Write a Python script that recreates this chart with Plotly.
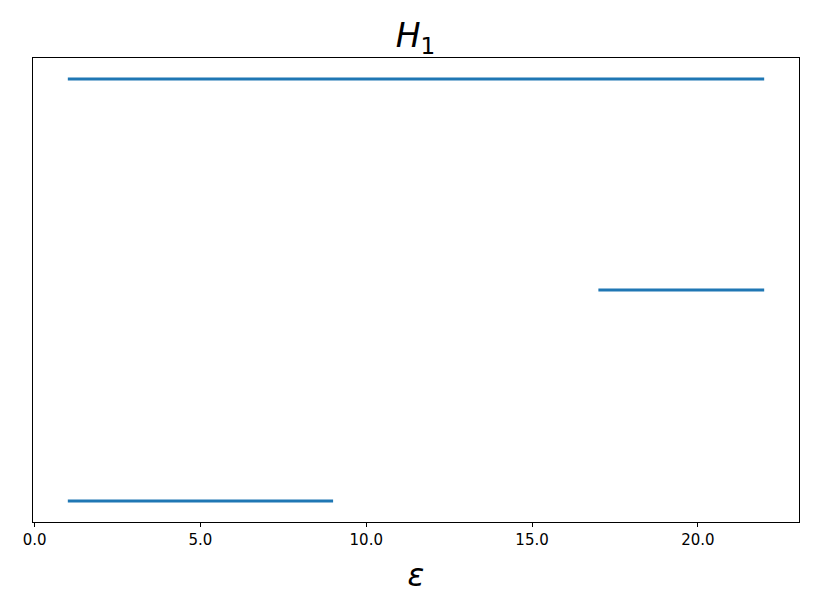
import plotly.graph_objects as go

# persistence intervals for H1 (birth, death), one bar per row
births = [1.0, 17.0, 1.0]
deaths = [22.0, 22.0, 9.0]
rows = [2, 1, 0]

tick_vals = [0, 5, 10, 15, 20]
tick_text = ["0.0", "5.0", "10.0", "15.0", "20.0"]

xs, ys = [], []
for b, d, r in zip(births, deaths, rows):
    xs += [b, d, None]
    ys += [r, r, None]

fig = go.Figure()
fig.add_trace(go.Scatter(
    x=xs, y=ys, mode="lines",
    line=dict(color="#1f77b4", width=3),
    showlegend=False, hoverinfo="skip",
))

# page body adds an 8px offset, so the figure is drawn 8px smaller
fig.update_layout(
    width=810, height=606,
    margin=dict(l=25, r=19, t=50, b=92),
    paper_bgcolor="white", plot_bgcolor="white",
    font=dict(family="DejaVu Sans", color="black"),
    title=dict(text="<i>H</i><sub>1</sub>", x=0.503, xanchor="center",
               y=0.955, yanchor="middle", font=dict(size=33)),
)
fig.update_xaxes(
    range=[-0.05, 23.05], tickvals=tick_vals, ticktext=tick_text,
    ticks="outside", ticklen=4, tickwidth=1, tickcolor="black",
    tickfont=dict(size=15),
    showgrid=False, zeroline=False,
    showline=True, linecolor="black", linewidth=1, mirror=True,
    title=dict(text="<i>ε</i>", font=dict(size=31), standoff=16),
)
fig.update_yaxes(
    range=[-0.1, 2.1], showticklabels=False, ticks="",
    showgrid=False, zeroline=False,
    showline=True, linecolor="black", linewidth=1, mirror=True,
)

fig.write_html("out.html")
